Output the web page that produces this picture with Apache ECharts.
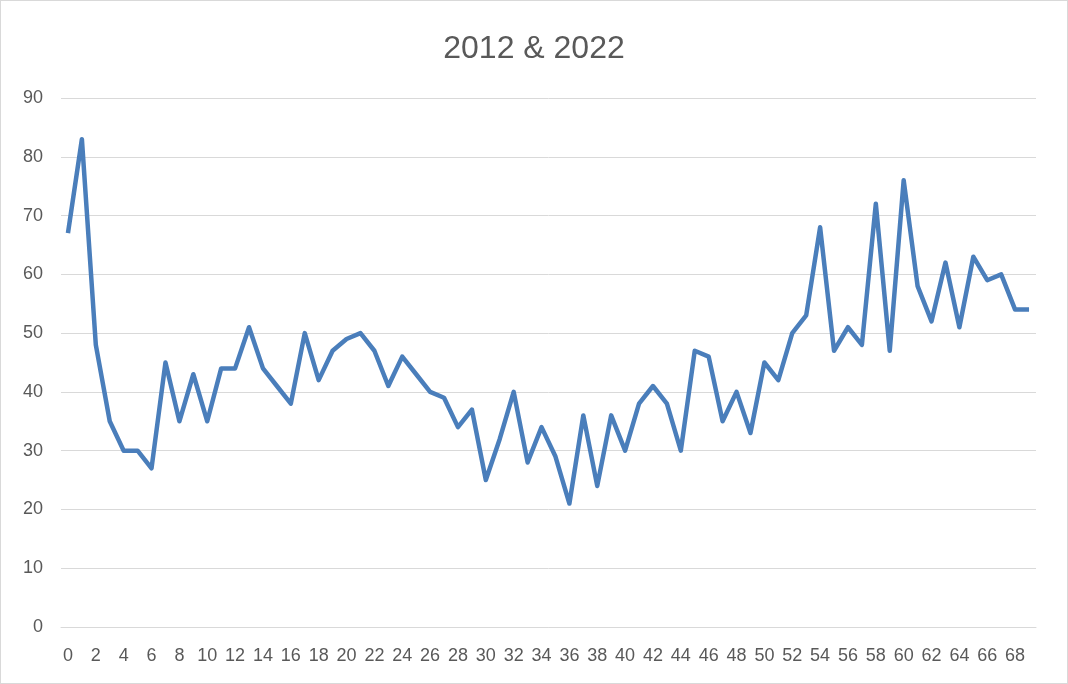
<!DOCTYPE html>
<html>
<head>
<meta charset="utf-8">
<script src="https://cdn.jsdelivr.net/npm/echarts@6/dist/echarts.min.js"></script>
<style>
html,body{margin:0;padding:0;background:#fff;}
#c{width:1068px;height:684px;box-sizing:border-box;border:1px solid #d9d9d9;}
</style>
</head>
<body>
<div id="c"></div>
<script>
const title = '2012 & 2022';
const categories = [];
for (let i = 0; i <= 69; i++) categories.push(String(i));
const values = [67,83,48,35,30,30,27,45,35,43,35,44,44,51,44,41,38,50,42,47,
  49,50,47,41,46,43,40,39,34,37,25,32,40,28,34,29,21,36,24,36,
  30,38,41,38,30,47,46,35,40,33,45,42,50,53,68,47,51,48,72,47,
  76,58,52,62,51,63,59,60,54,54];
const yTicks = {min:0, max:90, interval:10};

const chart = echarts.init(document.getElementById('c'));
const font = "'Liberation Sans',sans-serif";
chart.setOption({
  animation:false,
  title:{text:title,left:'center',top:27,textStyle:{fontFamily:font,fontSize:32,fontWeight:'normal',color:'#595959'}},
  grid:{left:60,right:31,top:97,bottom:56},
  xAxis:{type:'category',data:categories,boundaryGap:true,
    axisLine:{show:true,lineStyle:{color:'#d9d9d9'}},axisTick:{show:false},
    axisLabel:{interval:1,color:'#595959',fontFamily:font,fontSize:18,margin:20}},
  yAxis:{type:'value',min:yTicks.min,max:yTicks.max,interval:yTicks.interval,
    axisLine:{show:false},axisTick:{show:false},
    splitLine:{lineStyle:{color:'#d9d9d9',width:1}},
    axisLabel:{color:'#595959',fontFamily:font,fontSize:18,margin:18}},
  series:[{type:'line',data:values,symbol:'none',lineStyle:{color:'#4a7ebb',width:4.5,join:'round'},itemStyle:{color:'#4a7ebb'}}]
});
</script>
</body>
</html>
